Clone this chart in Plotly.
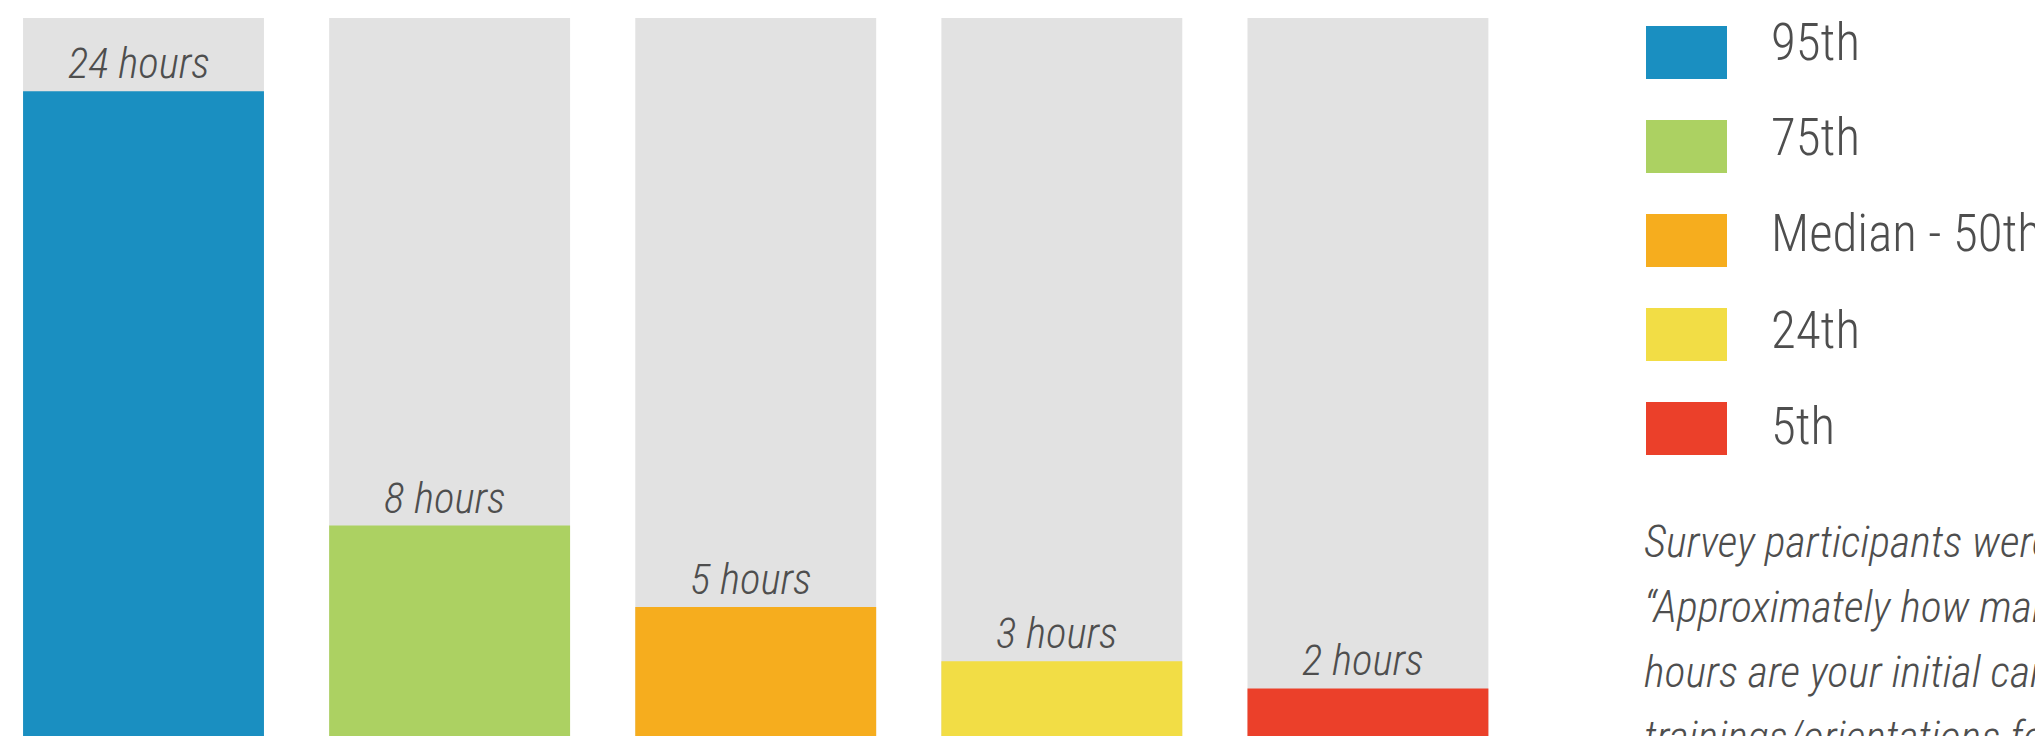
import plotly.graph_objects as go

# ---- data ----
percentiles = ["95th", "75th", "Median - 50th", "24th", "5th"]
hours = [24, 8, 5, 3, 2]
bar_labels = ["24 hours", "8 hours", "5 hours", "3 hours", "2 hours"]
scale_max = 26.7  # height of the grey background bars
colors = ["#1a8fc1", "#acd162", "#f6ad1e", "#f2dd45", "#eb402a"]
note_lines = [
    "Survey participants were asked:",
    "\u201cApproximately how many",
    "hours are your initial caregiver",
    "trainings/orientations for new hires?\u201d",
]

W, H = 2043, 736
FONT = "Roboto Condensed, Liberation Sans Narrow, Arial Narrow, Liberation Sans, sans-serif"
TEXT = "#4e4e4e"

fig = go.Figure()
fig.add_trace(go.Bar(
    x=percentiles, y=[scale_max] * len(percentiles),
    marker=dict(color="#e2e2e2", line=dict(width=0)),
    width=0.787, hoverinfo="skip", showlegend=False,
))
fig.add_trace(go.Bar(
    x=percentiles, y=hours,
    marker=dict(color=colors, line=dict(width=0)),
    width=0.787, showlegend=False,
))

annotations = []
for p, v, t in zip(percentiles, hours, bar_labels):
    annotations.append(dict(
        x=p, y=v, xref="x", yref="y", text="<i>%s</i>" % t,
        showarrow=False, yanchor="bottom", xanchor="center",
        yshift=1, xshift=-5,
        font=dict(family=FONT, size=43, color=TEXT, weight=300),
    ))

# legend drawn as shapes + text
shapes = []
sq_x0, sq_x1 = 1638, 1719
for i, (lab, c) in enumerate(zip(percentiles, colors)):
    top = 18 + 94 * i
    shapes.append(dict(
        type="rect", xref="paper", yref="paper",
        x0=sq_x0 / W, x1=sq_x1 / W, y0=1 - (top + 53) / H, y1=1 - top / H,
        fillcolor=c, line=dict(width=0), layer="above",
    ))
    cy = 34 + 96 * i
    annotations.append(dict(
        x=1761 / W, y=1 - cy / H, xref="paper", yref="paper", text=lab,
        showarrow=False, xanchor="left", yanchor="middle",
        font=dict(family=FONT, size=51, color=TEXT, weight=300),
    ))

for j, line in enumerate(note_lines):
    cy = 534 + 65 * j
    annotations.append(dict(
        x=1634 / W, y=1 - cy / H, xref="paper", yref="paper",
        text="<i>%s</i>" % line,
        showarrow=False, xanchor="left", yanchor="middle",
        font=dict(family=FONT, size=44, color=TEXT, weight=300),
    ))

fig.update_layout(
    width=W, height=H,
    margin=dict(l=0, r=0, t=0, b=0),
    paper_bgcolor="white", plot_bgcolor="white",
    barmode="overlay",
    xaxis=dict(domain=[0, 1500 / W], range=[-0.4427, 4.4576],
               showticklabels=False, showgrid=False, zeroline=False,
               showline=False, fixedrange=True),
    yaxis=dict(range=[-0.048, 27.07], showticklabels=False, showgrid=False,
               zeroline=False, showline=False, fixedrange=True),
    annotations=annotations, shapes=shapes,
    showlegend=False,
)

fig.write_html("out.html")
